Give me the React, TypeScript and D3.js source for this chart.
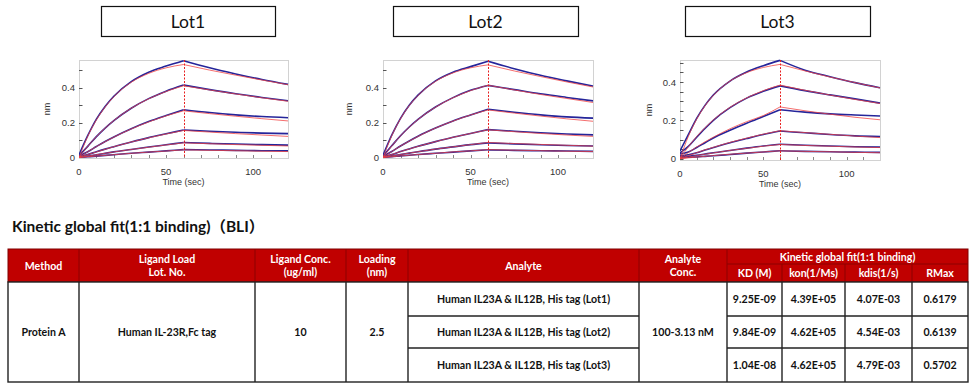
import { useEffect, useRef } from "react";
import * as d3 from "d3";

// sampling times (sec): association 0-60, dissociation 60-120
const sampleTimes = [0, 5, 10, 15, 20, 30, 40, 50, 60, 75, 90, 105, 120];
const lotNames = ["Lot1", "Lot2", "Lot3"];

// fitted curves (red), one row per analyte concentration 100 .. 3.13 nM
const lot1Fit = [
  [0, 0.121, 0.216, 0.290, 0.349, 0.432, 0.483, 0.515, 0.534, 0.502, 0.473, 0.445, 0.418],
  [0, 0.064, 0.120, 0.169, 0.212, 0.283, 0.337, 0.379, 0.412, 0.388, 0.365, 0.343, 0.323],
  [0, 0.033, 0.063, 0.091, 0.117, 0.164, 0.204, 0.239, 0.268, 0.252, 0.237, 0.223, 0.210],
  [0, 0.017, 0.032, 0.047, 0.062, 0.089, 0.113, 0.135, 0.155, 0.146, 0.137, 0.129, 0.121],
  [0, 0.008, 0.016, 0.024, 0.032, 0.046, 0.059, 0.072, 0.084, 0.079, 0.074, 0.070, 0.066],
  [0, 0.004, 0.008, 0.012, 0.016, 0.024, 0.031, 0.037, 0.044, 0.041, 0.039, 0.036, 0.034],
];
// measured sensorgrams (blue)
const lot1Obs = [
  [0.015, 0.125, 0.220, 0.293, 0.352, 0.436, 0.490, 0.525, 0.556, 0.515, 0.480, 0.448, 0.420],
  [0.010, 0.064, 0.120, 0.169, 0.212, 0.283, 0.338, 0.381, 0.416, 0.390, 0.366, 0.345, 0.326],
  [0.008, 0.033, 0.063, 0.092, 0.118, 0.165, 0.206, 0.241, 0.274, 0.258, 0.245, 0.235, 0.228],
  [0.005, 0.017, 0.033, 0.048, 0.062, 0.089, 0.114, 0.136, 0.158, 0.151, 0.145, 0.140, 0.137],
  [0.003, 0.008, 0.016, 0.024, 0.032, 0.046, 0.060, 0.073, 0.086, 0.081, 0.077, 0.074, 0.071],
  [0.002, 0.004, 0.008, 0.012, 0.016, 0.024, 0.031, 0.038, 0.045, 0.043, 0.041, 0.039, 0.038],
];

const lot2Fit = [
  [0, 0.125, 0.222, 0.298, 0.356, 0.437, 0.486, 0.515, 0.532, 0.497, 0.465, 0.434, 0.405],
  [0, 0.066, 0.124, 0.174, 0.218, 0.289, 0.343, 0.384, 0.415, 0.388, 0.362, 0.339, 0.316],
  [0, 0.034, 0.066, 0.094, 0.121, 0.169, 0.209, 0.244, 0.273, 0.255, 0.238, 0.222, 0.208],
  [0, 0.017, 0.034, 0.049, 0.064, 0.091, 0.116, 0.138, 0.159, 0.148, 0.138, 0.129, 0.121],
  [0, 0.009, 0.017, 0.025, 0.033, 0.048, 0.061, 0.074, 0.086, 0.080, 0.075, 0.070, 0.065],
  [0, 0.004, 0.009, 0.013, 0.017, 0.024, 0.032, 0.038, 0.045, 0.042, 0.039, 0.036, 0.034],
];
const lot2Obs = [
  [0.012, 0.128, 0.225, 0.300, 0.358, 0.440, 0.490, 0.522, 0.553, 0.510, 0.472, 0.440, 0.410],
  [0.008, 0.067, 0.125, 0.175, 0.219, 0.290, 0.344, 0.386, 0.414, 0.390, 0.366, 0.345, 0.325],
  [0.006, 0.034, 0.066, 0.095, 0.122, 0.169, 0.210, 0.244, 0.277, 0.260, 0.245, 0.233, 0.226],
  [0.004, 0.017, 0.034, 0.049, 0.064, 0.091, 0.116, 0.138, 0.160, 0.151, 0.142, 0.135, 0.130],
  [0.003, 0.009, 0.017, 0.025, 0.033, 0.048, 0.061, 0.074, 0.084, 0.078, 0.073, 0.069, 0.066],
  [0.002, 0.004, 0.009, 0.013, 0.017, 0.024, 0.031, 0.038, 0.044, 0.041, 0.039, 0.037, 0.035],
];

const lot3Fit = [
  [0, 0.116, 0.206, 0.276, 0.330, 0.405, 0.449, 0.476, 0.492, 0.458, 0.426, 0.397, 0.369],
  [0, 0.062, 0.115, 0.161, 0.202, 0.268, 0.317, 0.355, 0.384, 0.357, 0.332, 0.309, 0.288],
  [0, 0.032, 0.061, 0.088, 0.112, 0.156, 0.193, 0.225, 0.270, 0.250, 0.232, 0.216, 0.203],
  [0, 0.016, 0.031, 0.046, 0.059, 0.085, 0.107, 0.128, 0.146, 0.136, 0.127, 0.118, 0.110],
  [0, 0.008, 0.016, 0.023, 0.030, 0.043, 0.054, 0.065, 0.074, 0.069, 0.065, 0.061, 0.058],
  [0, 0.004, 0.008, 0.012, 0.016, 0.023, 0.029, 0.035, 0.041, 0.038, 0.036, 0.033, 0.031],
];
const lot3Obs = [
  [0.040, 0.125, 0.210, 0.278, 0.332, 0.405, 0.452, 0.485, 0.513, 0.462, 0.428, 0.397, 0.370],
  [0.030, 0.064, 0.112, 0.158, 0.200, 0.266, 0.316, 0.352, 0.380, 0.355, 0.333, 0.312, 0.290],
  [0.025, 0.035, 0.058, 0.083, 0.108, 0.148, 0.185, 0.220, 0.255, 0.243, 0.234, 0.228, 0.223],
  [0.015, 0.020, 0.031, 0.045, 0.058, 0.083, 0.105, 0.126, 0.144, 0.135, 0.126, 0.119, 0.115],
  [0.010, 0.012, 0.017, 0.024, 0.031, 0.043, 0.055, 0.066, 0.075, 0.070, 0.066, 0.062, 0.060],
  [0.005, 0.007, 0.009, 0.012, 0.015, 0.022, 0.029, 0.035, 0.041, 0.038, 0.036, 0.034, 0.033],
];

// table contents
const tableTitle = "Kinetic global fit(1:1 binding)\uFF08BLI\uFF09";
const methodName = "Protein A";
const ligandName = "Human IL-23R,Fc tag";
const ligandConc = "10";
const loadingNm = "2.5";
const analyteConc = "100-3.13 nM";
const analyteNames = [
  "Human IL23A & IL12B, His tag (Lot1)",
  "Human IL23A & IL12B, His tag (Lot2)",
  "Human IL23A & IL12B, His tag (Lot3)",
];
const kdValues = ["9.25E-09", "9.84E-09", "1.04E-08"];
const konValues = ["4.39E+05", "4.62E+05", "4.62E+05"];
const kdisValues = ["4.07E-03", "4.54E-03", "4.79E-03"];
const rmaxValues = ["0.6179", "0.6139", "0.5702"];
const headerCols = [["Method"], ["Ligand Load", "Lot. No."], ["Ligand Conc.", "(ug/ml)"], ["Loading", "(nm)"], ["Analyte"], ["Analyte", "Conc."]];
const kineticHeader = "Kinetic global fit(1:1 binding)";
const kineticCols = ["KD (M)", "kon(1/Ms)", "kdis(1/s)", "RMax"];

const sans = "'Liberation Sans', Arial, sans-serif";
const cal = "Lato, 'Noto Sans CJK SC', sans-serif";

const App: React.FC = () => {
  const svgRef = useRef<SVGSVGElement>(null);

  useEffect(() => {
    const svg = d3.select(svgRef.current);
    svg.selectAll("*").remove();

    const panels = [
      { fit: lot1Fit, obs: lot1Obs, x0: 79, x1: 288, y0: 158, y1: 60, yMin: -0.003, yMax: 0.56, step: 0.1, box: [101, 275], nmX: 50 },
      { fit: lot2Fit, obs: lot2Obs, x0: 383, x1: 593, y0: 158, y1: 60, yMin: -0.003, yMax: 0.56, step: 0.1, box: [393, 578], nmX: 352 },
      { fit: lot3Fit, obs: lot3Obs, x0: 680, x1: 880, y0: 160, y1: 60, yMin: -0.007, yMax: 0.515, step: 0.05, box: [685, 870], nmX: 652 },
    ];

    panels.forEach((p, pi) => {
      const g = svg.append("g");

      // Lot label box
      g.append("rect")
        .attr("x", p.box[0] + 0.5).attr("y", 6.5)
        .attr("width", p.box[1] - p.box[0]).attr("height", 30)
        .attr("fill", "#fff").attr("stroke", "#111").attr("stroke-width", 1.2);
      g.append("text")
        .attr("x", (p.box[0] + p.box[1]) / 2).attr("y", 28)
        .attr("text-anchor", "middle")
        .style("font-family", cal).style("font-size", "17.5px").attr("fill", "#111")
        .text(lotNames[pi]);

      const x = d3.scaleLinear().domain([0, 120]).range([p.x0, p.x1]);
      const y = d3.scaleLinear().domain([p.yMin, p.yMax]).range([p.y0, p.y1]);

      // frame
      g.append("rect")
        .attr("x", p.x0 + 0.5).attr("y", p.y1 + 0.5)
        .attr("width", p.x1 - p.x0).attr("height", p.y0 - p.y1)
        .attr("fill", "none").attr("stroke", "#d2d2d2");

      // y ticks
      const yTicks = d3.range(0, p.yMax, p.step);
      g.selectAll(".yt").data(yTicks).enter().append("line")
        .attr("x1", p.x0).attr("x2", p.x0 + 3.5)
        .attr("y1", (d) => Math.round(y(d)) + 0.5).attr("y2", (d) => Math.round(y(d)) + 0.5)
        .attr("stroke", "#555");
      g.selectAll(".yl").data([0, 0.2, 0.4]).enter().append("text")
        .attr("x", p.x0 - 4).attr("y", (d) => y(d) + 3.5)
        .attr("text-anchor", "end")
        .style("font-family", sans).style("font-size", "9.5px").attr("fill", "#333")
        .text((d) => (d === 0 ? "0" : d3.format(".1f")(d)));

      // x ticks
      g.selectAll(".xt").data(d3.range(10, 120, 10)).enter().append("line")
        .attr("x1", (d) => Math.round(x(d)) + 0.5).attr("x2", (d) => Math.round(x(d)) + 0.5)
        .attr("y1", p.y0).attr("y2", p.y0 - 3)
        .attr("stroke", "#888");
      g.selectAll(".xl").data([0, 50, 100]).enter().append("text")
        .attr("x", (d) => x(d)).attr("y", p.y0 + 17)
        .attr("text-anchor", "middle")
        .style("font-family", sans).style("font-size", "9.5px").attr("fill", "#333")
        .text((d) => d);

      g.append("text")
        .attr("x", (p.x0 + p.x1) / 2).attr("y", p.y0 + 27)
        .attr("text-anchor", "middle")
        .style("font-family", sans).style("font-size", "9px").attr("fill", "#333")
        .text("Time (sec)");
      g.append("text")
        .attr("transform", `translate(${p.nmX},${(p.y0 + p.y1) / 2}) rotate(-90)`)
        .attr("text-anchor", "middle")
        .style("font-family", sans).style("font-size", "9px").attr("fill", "#333")
        .text("nm");

      const clipId = "clip" + pi;
      svg.append("clipPath").attr("id", clipId).append("rect")
        .attr("x", p.x0).attr("y", p.y1 - 2)
        .attr("width", p.x1 - p.x0 + 1).attr("height", p.y0 - p.y1 + 2);

      const line = d3.line<[number, number]>()
        .x((d) => x(d[0])).y((d) => y(d[1]))
        .curve(d3.curveMonotoneX);
      const segs = (vals: number[]) => {
        const pts = vals.map((v, i) => [sampleTimes[i], v] as [number, number]);
        return [pts.slice(0, 9), pts.slice(8)];
      };

      const curves = g.append("g").attr("clip-path", `url(#${clipId})`);
      p.obs.forEach((vals) => {
        segs(vals).forEach((s) => {
          curves.append("path").attr("d", line(s))
            .attr("fill", "none").attr("stroke", "#25259a").attr("stroke-width", 1.6);
        });
      });
      p.fit.forEach((vals) => {
        segs(vals).forEach((s) => {
          curves.append("path").attr("d", line(s))
            .attr("fill", "none").attr("stroke", "#f04040").attr("stroke-width", 0.9)
            .attr("opacity", 0.85);
        });
      });

      // end of association
      const xs = Math.round(x(60)) + 0.5;
      g.append("line")
        .attr("x1", xs).attr("x2", xs)
        .attr("y1", p.y1).attr("y2", p.y0)
        .attr("stroke", "#e82020").attr("stroke-width", 1)
        .attr("stroke-dasharray", "2,1.5");
    });

    // ---- table ----
    svg.append("text")
      .attr("x", 12).attr("y", 232)
      .style("font-family", cal).style("font-size", "15.5px").style("font-weight", 700)
      .attr("fill", "#111")
      .text(tableTitle);

    const cols = [8, 79, 255, 346, 408, 639, 727, 782, 845, 912, 968];
    const yTop = 249, ySub = 264, yHead = 282;
    const rowEdges = [282, 316, 348, 382];
    const t = svg.append("g");
    const cx = (i: number) => (cols[i] + cols[i + 1]) / 2;
    const txt = (gx: number, gy: number, s: string, fill: string) =>
      t.append("text").attr("x", gx).attr("y", gy)
        .attr("text-anchor", "middle").attr("dominant-baseline", "central")
        .style("font-family", cal).style("font-size", "10.6px").style("font-weight", 700)
        .attr("fill", fill).text(s);

    t.append("rect").attr("x", cols[0]).attr("y", yTop)
      .attr("width", cols[10] - cols[0]).attr("height", yHead - yTop)
      .attr("fill", "#c00000").attr("stroke", "#800000");
    const hdr = "#8c0000";
    cols.slice(1, 10).forEach((c, i) => {
      const ci = i + 1;
      t.append("line").attr("x1", c).attr("x2", c)
        .attr("y1", ci >= 7 ? ySub : yTop).attr("y2", yHead)
        .attr("stroke", hdr);
    });
    t.append("line").attr("x1", cols[6]).attr("x2", cols[10])
      .attr("y1", ySub).attr("y2", ySub).attr("stroke", hdr);

    headerCols.forEach((lines, i) => {
      const mid = (yTop + yHead) / 2;
      lines.forEach((s, li) => {
        txt(cx(i), lines.length === 1 ? mid : mid + (li - 0.5) * 13, s, "#fff");
      });
    });
    txt((cols[6] + cols[10]) / 2, (yTop + ySub) / 2, kineticHeader, "#fff");
    kineticCols.forEach((s, i) => txt(cx(6 + i), (ySub + yHead) / 2, s, "#fff"));

    // body grid
    const body = "#222";
    t.append("rect").attr("x", cols[0]).attr("y", yHead)
      .attr("width", cols[10] - cols[0]).attr("height", rowEdges[3] - yHead)
      .attr("fill", "#fff").attr("stroke", body).attr("stroke-width", 1.4);
    cols.slice(1, 10).forEach((c) => {
      t.append("line").attr("x1", c).attr("x2", c)
        .attr("y1", yHead).attr("y2", rowEdges[3])
        .attr("stroke", body).attr("stroke-width", 1.4);
    });
    [rowEdges[1], rowEdges[2]].forEach((ry) => {
      [[cols[4], cols[5]], [cols[6], cols[10]]].forEach(([a, b]) => {
        t.append("line").attr("x1", a).attr("x2", b)
          .attr("y1", ry).attr("y2", ry)
          .attr("stroke", body).attr("stroke-width", 1.4);
      });
    });

    const bodyMid = (yHead + rowEdges[3]) / 2;
    [methodName, ligandName, ligandConc, loadingNm].forEach((s, i) => txt(cx(i), bodyMid, s, "#111"));
    txt(cx(5), bodyMid, analyteConc, "#111");
    analyteNames.forEach((s, r) => {
      const ry = (rowEdges[r] + rowEdges[r + 1]) / 2;
      txt(cx(4), ry, s, "#111");
      txt(cx(6), ry, kdValues[r], "#111");
      txt(cx(7), ry, konValues[r], "#111");
      txt(cx(8), ry, kdisValues[r], "#111");
      txt(cx(9), ry, rmaxValues[r], "#111");
    });
  }, []);

  return (
    <svg
      ref={svgRef}
      width={972}
      height={392}
      style={{ position: "absolute", left: 0, top: 0, background: "#fff" }}
    ></svg>
  );
};

export default App;
